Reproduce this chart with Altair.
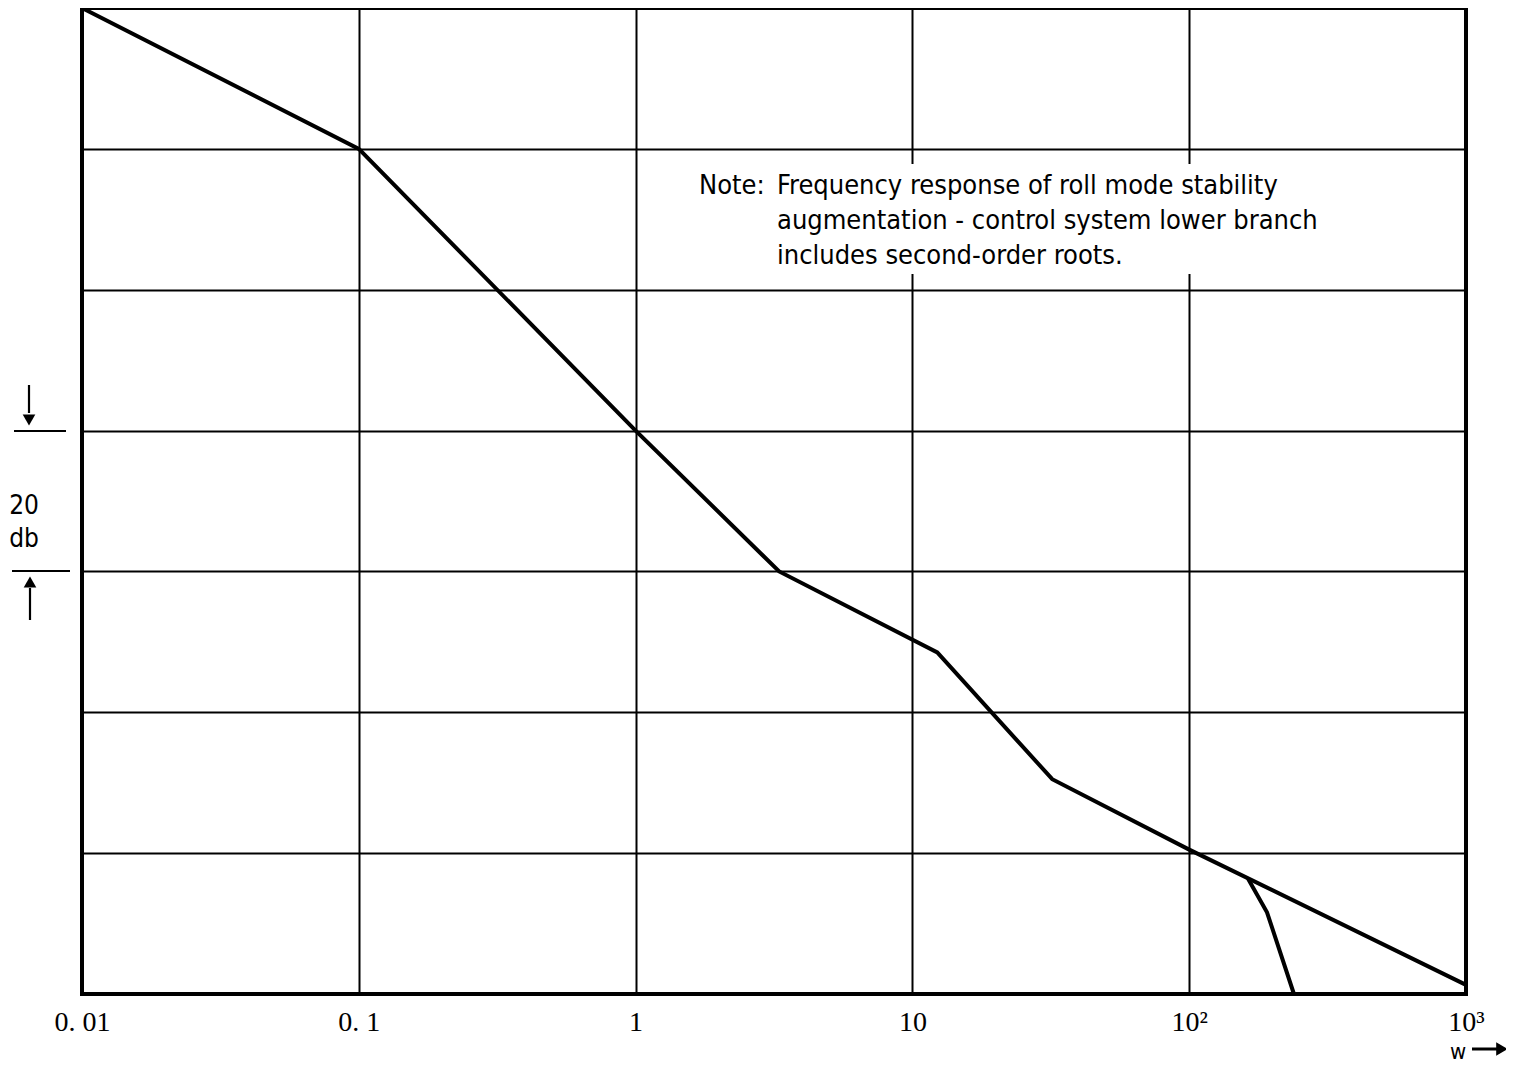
import altair as alt
import pandas as pd

# Main asymptotic response (frequency, magnitude in dB above bottom line)
freq_main = [0.01, 0.1, 1, 3.3, 12.3, 32, 100, 1000]
db_main = [140, 120, 80, 60, 48.5, 30.5, 20.5, 1.3]
# Lower branch (second-order roots), leaving the main line near w = 163
freq_lower = [163, 191, 239]
db_lower = [16.4, 11.6, 0]

x_ticks = [0.01, 0.1, 1, 10, 100, 1000]
x_labels = ["0. 01", "0. 1", "1", "10", "10²", "10³"]
y_grid = [0, 20, 40, 60, 80, 100, 120, 140]

note_lines = ["Frequency response of roll mode stability",
              "augmentation - control system lower branch",
              "includes second-order roots."]

FONT = "Liberation Sans Narrow, DejaVu Sans Condensed, sans-serif"
SERIF = "Liberation Serif, DejaVu Serif, serif"

W, H = 1384, 986

df = pd.concat([
    pd.DataFrame({"w": freq_main, "db": db_main, "branch": "main", "order": range(len(freq_main))}),
    pd.DataFrame({"w": freq_lower, "db": db_lower, "branch": "lower", "order": range(len(freq_lower))}),
]).reset_index(drop=True)

label_expr = " : ".join(
    [f"datum.value == {v} ? '{l}'" for v, l in zip(x_ticks, x_labels)]) + " : ''"

xscale = alt.Scale(type="log", domain=[0.01, 1000], nice=False)
yscale = alt.Scale(domain=[0, 140], nice=False, zero=False)

lines = alt.Chart(df).mark_line(color="black", strokeWidth=4, clip=False).encode(
    x=alt.X("w:Q", scale=xscale,
            axis=alt.Axis(values=x_ticks, labelExpr=label_expr, title=None, grid=True,
                          ticks=False, domain=False, labelFont=SERIF, labelFontSize=28,
                          labelColor="black", labelPadding=14, gridColor="black",
                          gridWidth=2, gridOpacity=1, labelFlush=False)),
    y=alt.Y("db:Q", scale=yscale,
            axis=alt.Axis(values=y_grid, labels=False, ticks=False, domain=False, title=None,
                          grid=True, gridColor="black", gridWidth=2, gridOpacity=1)),
    detail="branch:N",
    order="order:Q",
)

base = alt.Chart(pd.DataFrame({"a": [0]}))

note_bg = base.mark_rect(color="white", opacity=1).encode(
    x=alt.value(608), x2=alt.value(1245), y=alt.value(156), y2=alt.value(266))
note_head = base.mark_text(align="left", baseline="top", font=FONT, fontSize=27, color="black").encode(
    x=alt.value(617), y=alt.value(165), text=alt.value("Note:"))
note_body = base.mark_text(align="left", baseline="top", font=FONT, fontSize=27, color="black",
                           lineHeight=35).encode(
    x=alt.value(695), y=alt.value(165), text=alt.value(note_lines))

db_text = base.mark_text(align="center", baseline="middle", font=FONT, fontSize=26, color="black",
                         lineHeight=33).encode(
    x=alt.value(-58), y=alt.value(498), text=alt.value(["20", "db"]))

rule_style = dict(color="black", strokeWidth=2.2)
r1 = base.mark_rule(**rule_style).encode(x=alt.value(-68), x2=alt.value(-16), y=alt.value(423))
r2 = base.mark_rule(**rule_style).encode(x=alt.value(-53), y=alt.value(377), y2=alt.value(405))
r3 = base.mark_rule(**rule_style).encode(x=alt.value(-70), x2=alt.value(-12), y=alt.value(563))
r4 = base.mark_rule(**rule_style).encode(x=alt.value(-52), y=alt.value(580), y2=alt.value(612))
a1 = base.mark_point(shape="triangle-down", filled=True, color="black", size=160, opacity=1).encode(
    x=alt.value(-53), y=alt.value(412))
a2 = base.mark_point(shape="triangle-up", filled=True, color="black", size=160, opacity=1).encode(
    x=alt.value(-52), y=alt.value(574))

w_text = base.mark_text(align="center", baseline="middle", font=FONT, fontSize=22, color="black").encode(
    x=alt.value(1376), y=alt.value(1044), text=alt.value("w"))
w_rule = base.mark_rule(color="black", strokeWidth=3).encode(
    x=alt.value(1390), x2=alt.value(1415), y=alt.value(1041))
w_arrow = base.mark_point(shape="triangle-right", filled=True, color="black", size=180, opacity=1).encode(
    x=alt.value(1420), y=alt.value(1041))

chart = alt.layer(
    note_bg, lines, note_head, note_body, db_text, r1, r2, r3, r4, a1, a2, w_text, w_rule, w_arrow
).properties(
    width=W, height=H,
    autosize=alt.AutoSizeParams(type="none"),
    padding={"left": 74, "top": 0, "right": 40, "bottom": 70},
    background="white",
).configure_view(
    stroke="black", strokeWidth=4
)

chart.save("out.html", embed_options={"renderer": "svg", "actions": False})
